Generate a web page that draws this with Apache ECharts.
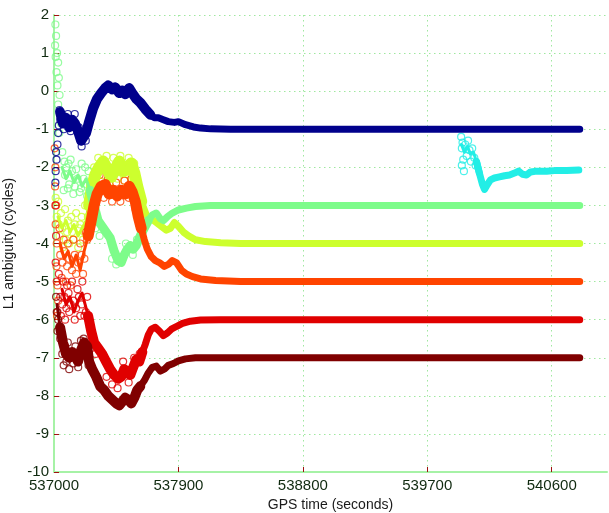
<!DOCTYPE html>
<html><head><meta charset="utf-8">
<script src="https://cdn.jsdelivr.net/npm/echarts@6/dist/echarts.min.js"></script>
<style>html,body{margin:0;padding:0;background:#fff}#c{width:609px;height:513px}</style>
</head><body><div id="c"></div>
<script>
// ---- axis ticks ----
const xTicks = [537000, 537900, 538800, 539700, 540600];
const xMax = 541000;
const yTicks = [-10, -9, -8, -7, -6, -5, -4, -3, -2, -1, 0, 1, 2];

// ---- series colours ----
const colNavy = '#00008c', colCyan = '#22eee6', colLGreen = '#7dfc8a',
      colYellow = '#cdff2e', colOrange = '#ff4400', colRed = '#e00000', colDark = '#800000';

// ---- main traces (GPS time s, ambiguity cycles) ----
const navyLine = [[537044,-0.55],[537065,-0.85],[537087,-0.7],[537109,-0.95],[537131,-0.75],[537152,-0.85],[537174,-1.05],[537196,-1.3],[537210,-1.33],[537232,-1.1],[537254,-0.8],[537283,-0.45],[537312,-0.2],[537341,-0.05],[537370,0.08],[537392,0.15],[537421,0.05],[537443,0.1],[537472,-0.05],[537494,0.02],[537515,-0.08],[537544,0.08],[537566,-0.05],[537595,-0.2],[537624,-0.3],[537660,-0.47],[537697,-0.62],[537726,-0.7],[537755,-0.7],[537791,-0.75],[537827,-0.8],[537871,-0.82],[537900,-0.8],[537951,-0.88],[538009,-0.94],[538060,-0.97],[538132,-0.99],[538277,-1.0],[540803,-1.0]];
const lgreenLine = [[537058,-2.0],[537087,-2.3],[537116,-2.1],[537145,-2.4],[537174,-2.2],[537203,-2.5],[537232,-2.3],[537261,-2.6],[537290,-3.0],[537319,-3.4],[537348,-3.55],[537377,-3.7],[537406,-3.85],[537435,-4.2],[537464,-4.45],[537486,-4.5],[537508,-4.3],[537530,-4.15],[537552,-4.05],[537573,-4.15],[537595,-4.05],[537624,-3.8],[537653,-3.6],[537682,-3.4],[537711,-3.25],[537740,-3.2],[537769,-3.35],[537791,-3.4],[537820,-3.3],[537856,-3.2],[537900,-3.12],[537958,-3.07],[538023,-3.03],[538132,-3.0],[540803,-3.0]];
const yellowLine = [[537029,-3.3],[537058,-3.6],[537087,-3.4],[537116,-3.7],[537145,-3.5],[537174,-3.8],[537203,-3.6],[537232,-3.4],[537254,-3.0],[537276,-2.5],[537298,-2.2],[537327,-2.0],[537356,-1.85],[537385,-2.05],[537414,-2.25],[537443,-2.05],[537472,-1.85],[537501,-2.1],[537530,-2.05],[537559,-1.9],[537581,-2.15],[537602,-2.5],[537631,-2.9],[537668,-3.25],[537704,-3.35],[537740,-3.45],[537777,-3.55],[537813,-3.65],[537842,-3.6],[537871,-3.45],[537900,-3.55],[537936,-3.7],[537973,-3.8],[538023,-3.9],[538096,-3.95],[538205,-3.98],[538350,-4.0],[540803,-4.0]];
const orangeLine = [[537044,-4.0],[537073,-4.4],[537102,-4.2],[537131,-4.6],[537160,-4.3],[537189,-4.7],[537218,-4.2],[537247,-3.8],[537269,-3.4],[537290,-3.0],[537312,-2.7],[537341,-2.5],[537370,-2.45],[537399,-2.7],[537428,-2.6],[537457,-2.75],[537486,-2.6],[537515,-2.7],[537544,-2.5],[537566,-2.65],[537588,-2.9],[537610,-3.3],[537631,-3.6],[537653,-3.9],[537675,-4.15],[537704,-4.35],[537733,-4.45],[537762,-4.5],[537798,-4.6],[537827,-4.55],[537856,-4.45],[537885,-4.5],[537922,-4.7],[537958,-4.8],[538002,-4.87],[538060,-4.93],[538169,-4.97],[538350,-5.0],[540803,-5.0]];
const redLine = [[537058,-5.2],[537087,-5.6],[537116,-5.4],[537145,-5.8],[537174,-5.5],[537203,-5.3],[537225,-5.6],[537247,-5.9],[537269,-6.3],[537290,-6.6],[537319,-6.75],[537348,-6.9],[537377,-7.1],[537406,-7.3],[537435,-7.45],[537464,-7.55],[537486,-7.5],[537508,-7.3],[537530,-7.4],[537552,-7.45],[537573,-7.25],[537595,-7.05],[537617,-7.1],[537639,-6.85],[537660,-6.65],[537682,-6.4],[537704,-6.25],[537733,-6.2],[537762,-6.3],[537791,-6.42],[537820,-6.35],[537849,-6.25],[537885,-6.18],[537929,-6.1],[537987,-6.04],[538060,-6.01],[538205,-6.0],[540803,-6.0]];
const darkLine = [[537022,-5.6],[537044,-6.2],[537065,-6.6],[537087,-6.9],[537109,-7.0],[537131,-6.85],[537152,-6.95],[537174,-7.1],[537196,-6.8],[537218,-6.6],[537240,-6.7],[537254,-7.1],[537276,-7.3],[537305,-7.5],[537334,-7.75],[537363,-7.85],[537392,-8.0],[537421,-8.1],[537450,-8.2],[537472,-8.25],[537494,-8.15],[537515,-8.05],[537537,-8.1],[537559,-8.2],[537581,-8.05],[537602,-7.85],[537624,-7.75],[537653,-7.6],[537682,-7.4],[537711,-7.25],[537740,-7.22],[537769,-7.35],[537798,-7.3],[537827,-7.2],[537864,-7.15],[537900,-7.08],[537951,-7.03],[538023,-7.0],[540803,-7.0]];
const cyanLine = [[539947,-1.4],[539969,-1.6],[539990,-1.45],[540012,-1.65],[540034,-1.6],[540056,-1.85],[540077,-2.15],[540099,-2.45],[540114,-2.58],[540135,-2.45],[540157,-2.33],[540186,-2.28],[540222,-2.25],[540259,-2.22],[540295,-2.2],[540331,-2.15],[540360,-2.1],[540389,-2.18],[540418,-2.2],[540447,-2.12],[540491,-2.1],[540564,-2.1],[540636,-2.08],[540709,-2.08],[540796,-2.07]];

// ---- noisy early samples (open circles) ----
const lgreenPts = [[537010,1.75],[537015,1.45],[537008,1.2],[537022,1.0],[537012,0.9],[537030,0.75],[537018,0.5],[537035,0.35],[537025,0.15],[537040,-0.1],[537030,-0.35],[537048,-0.6],[537038,-1.1],[537052,-0.85],[537060,-1.6],[537075,-1.85],[537090,-2.0],[537070,-2.6],[537100,-2.55],[537120,-1.8],[537140,-2.7],[537160,-2.05],[537185,-2.65],[537200,-1.9],[537215,-2.3],[537240,-2.75],[537250,-2.1],[537080,-2.2],[537110,-2.45],[537130,-2.1],[537150,-2.5],[537170,-2.3],[537195,-2.55],[537225,-2.0],[537260,-2.5],[537105,-1.9],[537235,-2.45],[537270,-3.2],[537300,-3.6],[537330,-3.8],[537420,-4.4],[537450,-4.55],[537520,-4.0],[537570,-4.3],[537600,-3.9]];
const navyPts = [[537010,-2.4],[537012,-2.1],[537018,-1.8],[537015,-1.6],[537025,-1.4],[537030,-1.1],[537035,-0.9],[537045,-0.75],[537040,-0.5],[537055,-0.6],[537070,-1.0],[537100,-0.6],[537120,-1.05],[537150,-0.6],[537180,-0.95],[537200,-1.45],[537230,-1.3]];
const yellowPts = [[537012,-2.8],[537020,-3.3],[537030,-2.9],[537040,-3.8],[537050,-3.2],[537065,-4.1],[537080,-3.1],[537095,-3.7],[537110,-4.0],[537125,-3.3],[537140,-3.9],[537160,-3.2],[537175,-4.1],[537190,-3.5],[537210,-3.9],[537225,-3.0],[537240,-3.6],[537035,-3.5],[537060,-3.6],[537085,-3.9],[537100,-3.4],[537130,-3.7],[537150,-3.5],[537180,-3.6],[537200,-3.3],[537220,-3.7],[537245,-3.3],[537260,-2.6],[537290,-2.0],[537320,-1.75],[537350,-2.2],[537380,-1.7],[537400,-2.4],[537430,-1.75],[537460,-2.3],[537480,-1.7],[537510,-2.35],[537540,-1.75],[537560,-2.3],[537580,-1.9],[537600,-2.6],[537630,-3.1]];
const orangePts = [[537005,-1.5],[537010,-2.0],[537008,-2.5],[537015,-3.0],[537012,-3.5],[537020,-4.0],[537018,-4.6],[537025,-5.1],[537030,-5.5],[537022,-5.9],[537040,-3.6],[537055,-4.9],[537070,-3.9],[537085,-5.0],[537100,-4.0],[537120,-5.1],[537140,-3.9],[537160,-4.8],[537190,-4.0],[537210,-4.8],[537230,-3.7],[537045,-4.3],[537060,-4.5],[537075,-4.2],[537095,-4.6],[537110,-4.4],[537130,-4.7],[537150,-4.3],[537175,-4.5],[537200,-4.3],[537220,-4.4],[537240,-3.9],[537260,-3.2],[537300,-2.5],[537330,-2.2],[537360,-2.8],[537390,-2.3],[537420,-2.9],[537450,-2.4],[537480,-2.9],[537510,-2.35],[537540,-2.8],[537560,-2.3],[537590,-3.1]];
const redPts = [[537010,-3.0],[537015,-3.8],[537012,-4.5],[537020,-5.0],[537025,-5.8],[537035,-4.8],[537050,-5.9],[537065,-5.0],[537080,-6.0],[537095,-5.1],[537110,-5.8],[537130,-5.0],[537150,-6.0],[537170,-5.2],[537190,-5.9],[537205,-5.0],[537220,-5.9],[537240,-5.4],[537045,-5.4],[537060,-5.6],[537075,-5.4],[537090,-5.7],[537105,-5.3],[537120,-5.6],[537140,-5.5],[537160,-5.7],[537180,-5.4],[537200,-5.6],[537230,-5.8],[537250,-6.0],[537260,-6.2],[537300,-6.9],[537380,-7.5],[537420,-7.7],[537460,-7.8],[537500,-7.1],[537540,-7.65],[537580,-7.0],[537620,-6.9]];
const darkPts = [[537015,-5.4],[537020,-5.8],[537025,-6.3],[537030,-6.0],[537045,-6.5],[537060,-6.9],[537070,-7.2],[537080,-6.7],[537090,-7.1],[537100,-6.6],[537110,-7.3],[537120,-6.85],[537140,-7.15],[537155,-6.7],[537175,-7.25],[537195,-6.55],[537215,-6.5],[537230,-6.9],[537250,-7.2]];
const cyanPts = [[539945,-1.2],[539950,-1.5],[539955,-1.35],[539960,-1.8],[539950,-1.95],[539965,-2.1],[539975,-1.4],[539985,-1.7],[539995,-1.3],[540005,-1.55],[540015,-1.85],[540025,-1.5],[540040,-1.75],[540050,-1.95]];

// phase limits: sparse cloud until cloudEnd, wide noisy band until noisyEnd
const traces = [
  {line: yellowLine, pts: yellowPts, color: colYellow, cloudEnd: 537254, noisyEnd: 537640, noisyW: 12},
  {line: lgreenLine, pts: lgreenPts, color: colLGreen, cloudEnd: 537261, noisyEnd: 537700, noisyW: 9},
  {line: orangeLine, pts: orangePts, color: colOrange, cloudEnd: 537247, noisyEnd: 537640, noisyW: 11},
  {line: redLine, pts: redPts, color: colRed, cloudEnd: 537247, noisyEnd: 537650, noisyW: 10},
  {line: darkLine, pts: darkPts, color: colDark, cloudEnd: 537044, noisyEnd: 537650, noisyW: 10},
  {line: navyLine, pts: navyPts, color: colNavy, cloudEnd: 537044, noisyEnd: 537700, noisyW: 10},
  {line: cyanLine, pts: cyanPts, color: colCyan, cloudEnd: 540056, noisyEnd: 540080, noisyW: 7}
];

const series = [];
traces.forEach(tr => {
  series.push({type: 'scatter', data: tr.pts, symbol: 'circle', symbolSize: 7,
    itemStyle: {color: 'rgba(255,255,255,0)', borderColor: tr.color, borderWidth: 1.2},
    silent: true, z: 2});
});
traces.forEach(tr => {
  const thin = tr.line.filter(p => p[0] <= tr.cloudEnd);
  const main = tr.line.filter(p => p[0] >= tr.cloudEnd);
  const noisy = main.filter(p => p[0] <= tr.noisyEnd);
  const base = {type: 'line', symbol: 'none', showSymbol: false, silent: true, z: 3};
  series.push(Object.assign({}, base, {data: thin,
    lineStyle: {width: 3, color: tr.color, cap: 'round', join: 'round'}}));
  series.push(Object.assign({}, base, {data: noisy,
    lineStyle: {width: tr.noisyW, color: tr.color, cap: 'round', join: 'round'}}));
  series.push(Object.assign({}, base, {data: main,
    lineStyle: {width: 7, color: tr.color, cap: 'round', join: 'round'}}));
});

const font = 'Liberation Sans, Arial, sans-serif';
const labelColor = '#102a10';

const chart = echarts.init(document.getElementById('c'), null, {renderer: 'canvas'});
chart.setOption({
  animation: false,
  backgroundColor: '#ffffff',
  grid: {left: 54, right: 2, top: 15, bottom: 41, containLabel: false, outerBoundsMode: 'none'},
  xAxis: {
    type: 'value', min: xTicks[0], max: xMax, interval: xTicks[1] - xTicks[0],
    name: 'GPS time (seconds)', nameLocation: 'middle', nameGap: 21,
    nameTextStyle: {fontFamily: font, fontSize: 14, color: '#1a1a1a', verticalAlign: 'top'},
    axisLine: {show: true, onZero: false, lineStyle: {color: '#a6f2a6', width: 2}},
    axisTick: {show: true, inside: true, length: 5, lineStyle: {color: '#a01010', width: 1}},
    axisLabel: {fontFamily: font, fontSize: 15, color: labelColor, margin: 6,
      showMinLabel: false, showMaxLabel: false, hideOverlap: false, formatter: v => String(v)},
    splitLine: {show: true, showMinLine: false, showMaxLine: false,
      lineStyle: {color: '#9fe89f', width: 1, type: [1.5, 3.5]}}
  },
  yAxis: {
    type: 'value', min: yTicks[0], max: yTicks[yTicks.length - 1], interval: yTicks[1] - yTicks[0],
    name: 'L1 ambiguity (cycles)', nameLocation: 'middle', nameGap: 32, nameRotate: 90,
    nameTextStyle: {fontFamily: font, fontSize: 14, color: '#1a1a1a'},
    axisLine: {show: true, onZero: false, lineStyle: {color: '#a6f2a6', width: 2}},
    axisTick: {show: true, inside: true, length: 5, lineStyle: {color: '#a01010', width: 1}},
    axisLabel: {fontFamily: font, fontSize: 15, color: labelColor, margin: 5},
    splitLine: {show: true, showMinLine: false, showMaxLine: true,
      lineStyle: {color: '#9fe89f', width: 1, type: [1.5, 3.5]}}
  },
  series: series
});

// first x tick label, centred on its tick (measured so it does not depend on text-align handling)
const p0 = chart.convertToPixel({xAxisIndex: 0, yAxisIndex: 0}, [xTicks[0], yTicks[0]]);
const mctx = document.createElement('canvas').getContext('2d');
mctx.font = '15px ' + font;
const w0 = mctx.measureText(String(xTicks[0])).width;
chart.setOption({
  graphic: [{type: 'text', silent: true, left: Math.round(p0[0] - w0 / 2), top: Math.round(p0[1] + 6),
    style: {text: String(xTicks[0]), fill: labelColor, font: '15px ' + font}}]
});
</script>
</body></html>
